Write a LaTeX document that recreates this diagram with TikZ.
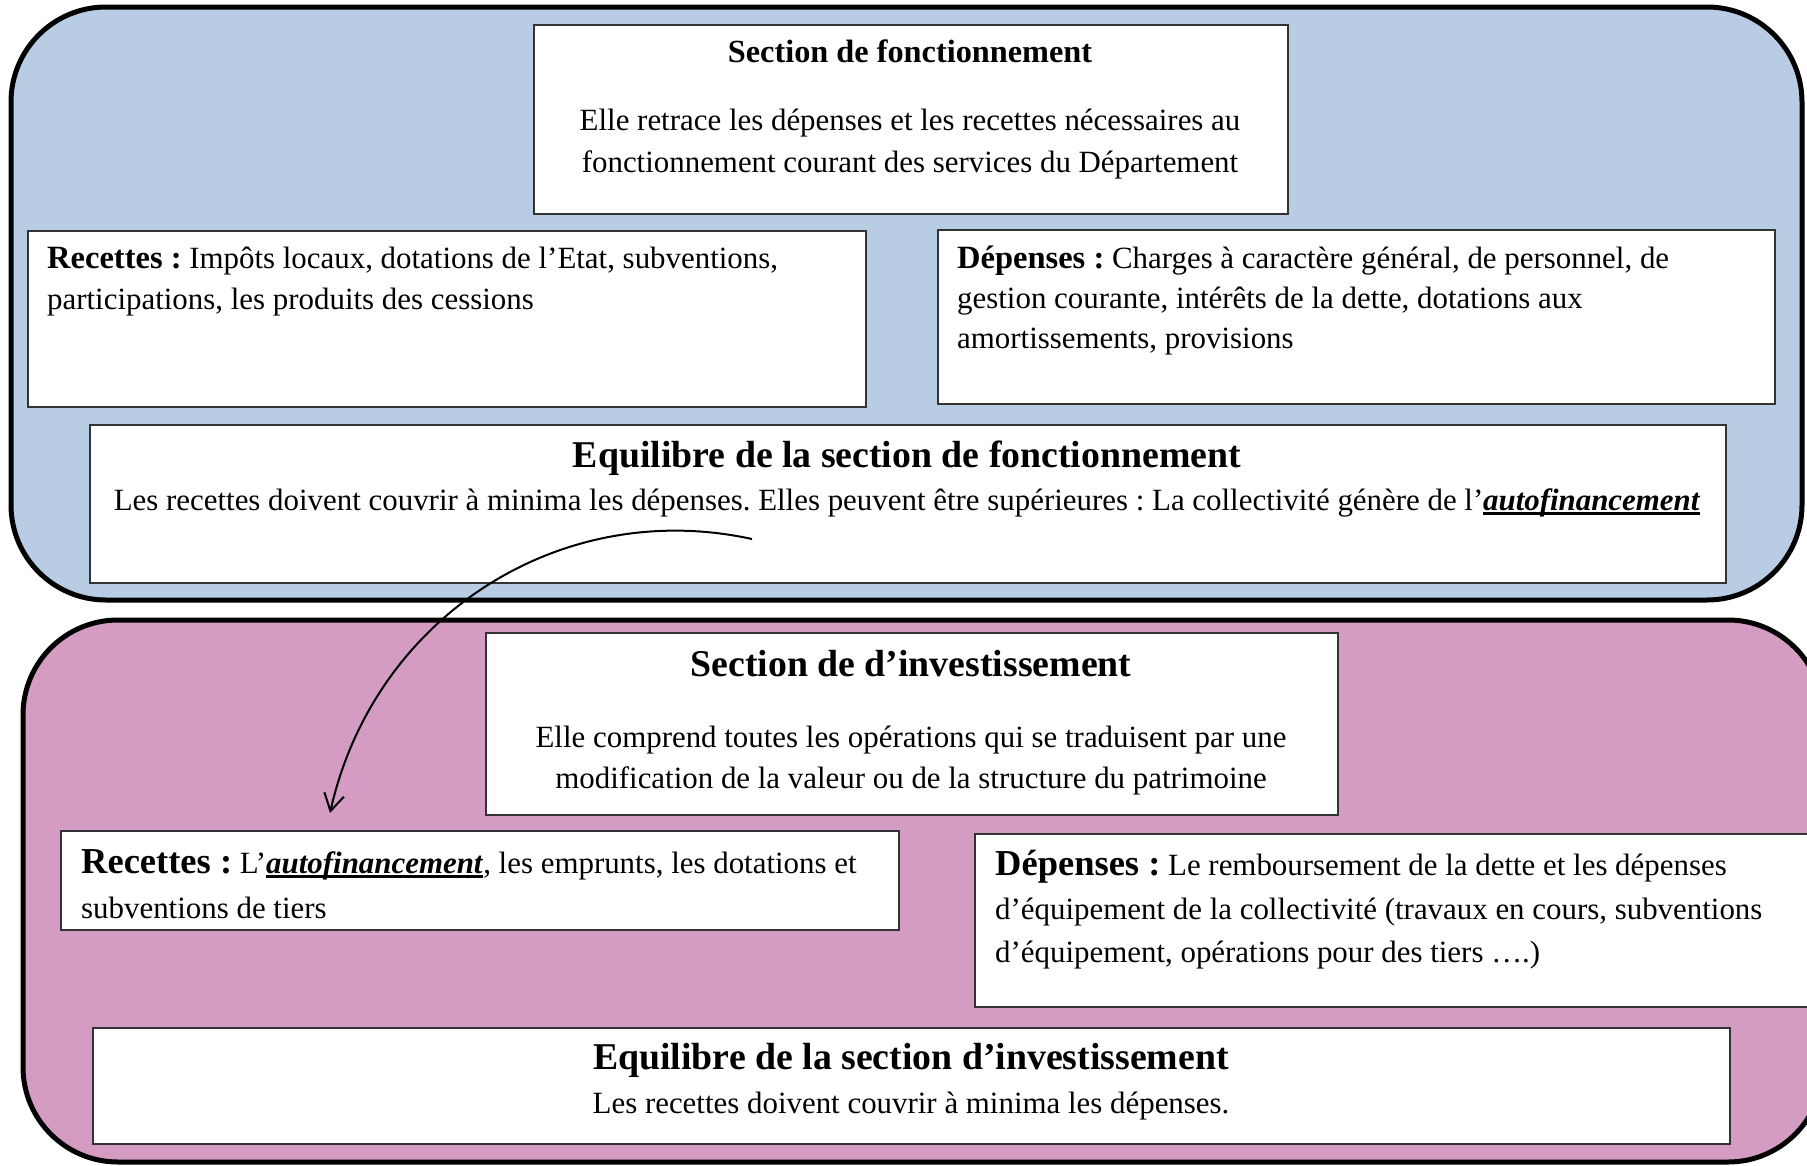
\documentclass[tikz,border=0pt]{standalone}
\usepackage{fontspec}
\setmainfont{Liberation Serif}
\usetikzlibrary{arrows.meta}
\definecolor{bluefill}{RGB}{184,204,228}
\definecolor{pinkfill}{RGB}{212,156,194}
\frenchspacing
\newcommand{\bodyfont}{\fontsize{30.9}{40}\selectfont}
\newcommand{\headfont}{\fontsize{37.8}{44}\selectfont\bfseries}
\newcommand{\autof}{\setbox0\hbox{\textbf{\textit{autofinancement}}}\rlap{\rule[-4.5pt]{\wd0}{2.2pt}}\box0}
\tikzset{
  panel/.style={draw=black, line width=5pt, rounded corners=95pt},
  box/.style={draw=black!80, fill=white, line width=2pt, inner sep=0pt, anchor=north west},
  ltxt/.style={inner sep=0pt, anchor=base west, font=\bodyfont},
  ctxt/.style={inner sep=0pt, anchor=base, font=\bodyfont},
  arrowline/.style={line width=2pt, -{Straight Barb[length=17pt,width=20pt,line width=2pt]}}
}
\begin{document}
\begin{tikzpicture}[x=1pt,y=-1pt]
\clip (0,0) rectangle (1807,1165);
\fill[white] (0,0) rectangle (1807,1165);
% panels
\draw[panel, fill=bluefill] (11,7) rectangle (1802,600);
\draw[panel, fill=pinkfill] (23,620) rectangle (1823,1162);
% ---------- Section de fonctionnement ----------
\node[box, minimum width=754pt, minimum height=189pt] (secF) at (533,24) {};
\node[ctxt, font=\fontsize{32.3}{38}\selectfont\bfseries] (secFt) at (910,62) {Section de fonctionnement};
\node[ctxt] (secF1) at (910,130) {Elle retrace les dépenses et les recettes nécessaires au};
\node[ctxt] (secF2) at (910,172) {fonctionnement courant des services du Département};
\node[box, minimum width=838pt, minimum height=176pt] (recF) at (27,230) {};
\node[ltxt] (recF1) at (47,268) {{\fontsize{32.5}{40}\selectfont\bfseries Recettes :} Impôts locaux, dotations de l’Etat, subventions,};
\node[ltxt] (recF2) at (47,309) {participations, les produits des cessions};
\node[box, minimum width=837pt, minimum height=174pt] (depF) at (937,229) {};
\node[ltxt] (depF1) at (957,268) {{\fontsize{32.5}{40}\selectfont\bfseries Dépenses :} Charges à caractère général, de personnel, de};
\node[ltxt] (depF2) at (957,308) {gestion courante, intérêts de la dette, dotations aux};
\node[ltxt] (depF3) at (957,348) {amortissements, provisions};
\node[box, minimum width=1636pt, minimum height=158pt] (eqF) at (89,424) {};
\node[ctxt, font=\headfont] (eqFt) at (907,467) {Equilibre de la section de fonctionnement};
\node[ctxt] (eqF1) at (907,510) {Les recettes doivent couvrir à minima les dépenses. Elles peuvent être supérieures : La collectivité génère de l’\autof};
% ---------- Section d'investissement ----------
\node[box, minimum width=852pt, minimum height=182pt] (secI) at (485,632) {};
\node[ctxt, font=\headfont] (secIt) at (911,676) {Section de d’investissement};
\node[ctxt] (secI1) at (911,747) {Elle comprend toutes les opérations qui se traduisent par une};
\node[ctxt] (secI2) at (911,788) {modification de la valeur ou de la structure du patrimoine};
\node[box, minimum width=838pt, minimum height=99pt] (recI) at (60,830) {};
\node[ltxt] (recI1) at (81,873) {{\fontsize{36.5}{40}\selectfont\bfseries Recettes :} L’\autof, les emprunts, les dotations et};
\node[ltxt] (recI2) at (81,918) {subventions de tiers};
\node[box, minimum width=860pt, minimum height=173pt] (depI) at (974,833) {};
\node[ltxt] (depI1) at (995,875) {{\fontsize{36.5}{40}\selectfont\bfseries Dépenses :} Le remboursement de la dette et les dépenses};
\node[ltxt] (depI2) at (995,919) {d’équipement de la collectivité (travaux en cours, subventions};
\node[ltxt] (depI3) at (995,962) {d’équipement, opérations pour des tiers ….)};
\node[box, minimum width=1637pt, minimum height=116pt] (eqI) at (92,1027) {};
\node[ctxt, font=\headfont] (eqIt) at (911,1069) {Equilibre de la section d’investissement};
\node[ctxt] (eqI1) at (911,1113) {Les recettes doivent couvrir à minima les dépenses.};
% ---------- arrow ----------
\coordinate (arrS) at (752,539);
\coordinate (arrE) at (330,813);
\draw[arrowline] (arrS) .. controls (560,497) and (374,617) .. (arrE);
\end{tikzpicture}
\end{document}
